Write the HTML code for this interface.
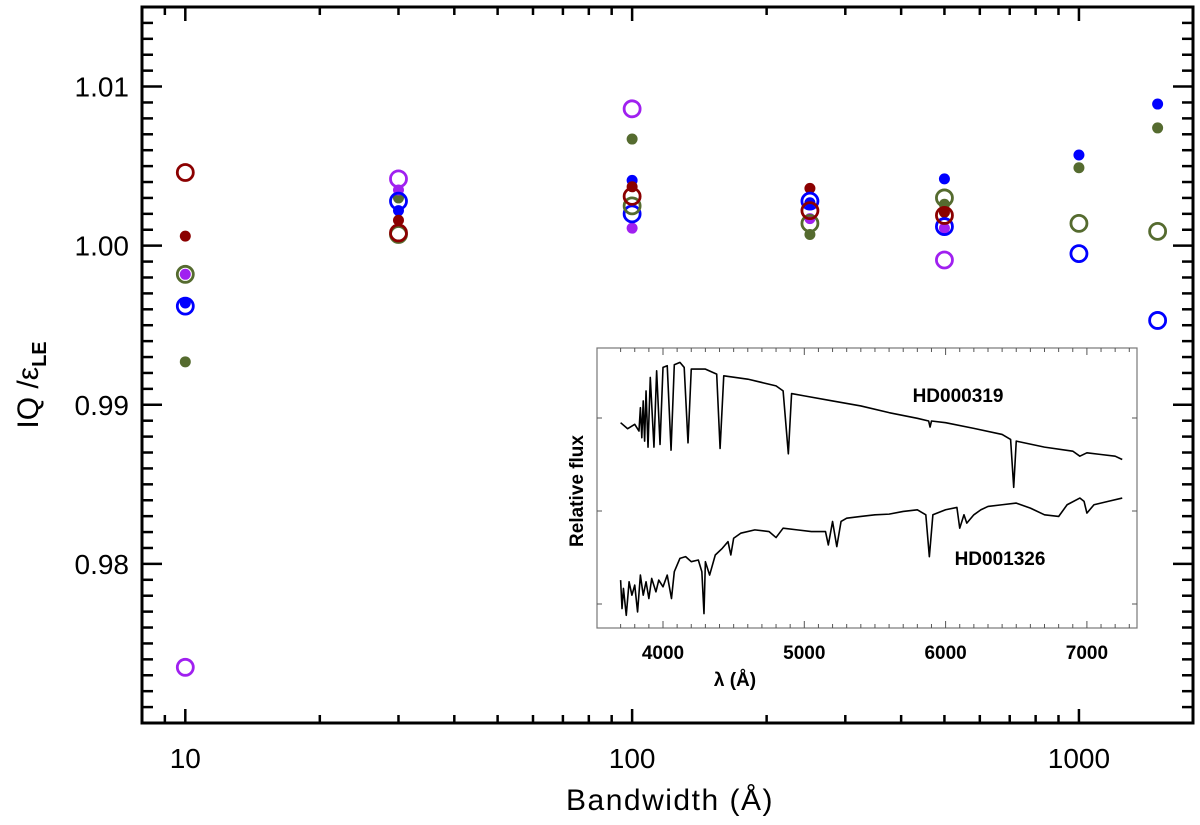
<!DOCTYPE html>
<html><head><meta charset="utf-8"><style>
html,body{margin:0;padding:0;background:#fff;}
svg{display:block;font-family:"Liberation Sans",sans-serif;}
</style></head><body>
<svg id="chart" width="1200" height="825" viewBox="0 0 1200 825">
<g id="main-axes"></g>
<g id="points"></g>
<g id="inset"></g>
<text x="670" y="810" text-anchor="middle" font-size="30" letter-spacing="1.5">Bandwidth (Å)</text>
<g transform="translate(38,385) rotate(-90)">
<text x="0" y="0" text-anchor="middle" font-size="30">IQ /ε<tspan font-size="20" font-weight="bold" dy="8">LE</tspan></text>
</g>
</svg>
<script>
const NS='http://www.w3.org/2000/svg';
const bandwidths=[10,30,100,250,500,1000,1500];
const blueFilled=[0.9964,1.0022,1.0041,1.0027,1.0042,1.0057,1.0089];
const blueOpen=[0.9962,1.0028,1.0020,1.0028,1.0012,0.9995,0.9953];
const oliveFilled=[0.9927,1.0030,1.0067,1.0007,1.0026,1.0049,1.0074];
const oliveOpen=[0.9982,1.0007,1.0025,1.0014,1.0030,1.0014,1.0009];
const redFilled=[1.0006,1.0016,1.0037,1.0036,1.0021,null,null];
const redOpen=[1.0046,1.0008,1.0031,1.0022,1.0019,null,null];
const purpleFilled=[0.9982,1.0035,1.0011,1.0017,1.0011,null,null];
const purpleOpen=[0.9735,1.0042,1.0086,null,0.9991,null,null];
const yTicks=[0.98,0.99,1.00,1.01];
const yTickLabels=['0.98','0.99','1.00','1.01'];
const xTicks=[10,100,1000];
const xTickLabels=['10','100','1000'];
// inset spectra
const hd319Wave=[3700,3750,3800,3830,3840,3850,3860,3870,3880,3894,3910,3936,3955,3979,4000,4030,4057,4080,4120,4150,4177,4200,4300,4380,4404,4430,4600,4800,4850,4887,4910,5000,5200,5400,5600,5800,5880,5890,5900,6000,6200,6400,6460,6482,6500,6700,6900,6950,7000,7100,7200,7250];
const hd319Flux=[613,595,608,588,658,568,678,558,708,540,748,540,768,548,778,783,531,786,793,778,553,773,773,758,536,753,743,723,708,520,700,693,678,663,643,626,618,600,618,613,596,578,563,420,558,540,528,513,523,518,513,503];
const hd1326Wave=[3700,3710,3720,3740,3760,3780,3800,3820,3840,3860,3880,3900,3920,3950,3970,4000,4030,4060,4080,4120,4160,4200,4250,4275,4290,4300,4330,4370,4420,4460,4480,4500,4550,4650,4750,4800,4850,4950,5050,5150,5170,5200,5230,5260,5300,5400,5500,5600,5700,5800,5860,5885,5910,6000,6080,6100,6130,6150,6200,6250,6300,6400,6500,6600,6700,6800,6860,6950,6980,7000,7050,7150,7250];
const hd1326Flux=[143,58,118,38,138,98,128,48,158,98,138,88,148,108,143,123,158,88,168,208,213,198,203,168,43,198,158,218,238,258,218,268,283,293,288,270,298,293,288,288,248,318,243,318,328,333,338,340,348,353,338,213,338,353,360,298,338,313,338,353,363,368,373,358,338,333,368,388,378,343,368,378,388];
const insetXTicks=[4000,5000,6000,7000];

function el(tag,attrs,parent){const e=document.createElementNS(NS,tag);for(const k in attrs)e.setAttribute(k,attrs[k]);parent.appendChild(e);return e;}
const L=142,R=1193,T=7,B=723;
const lx0=Math.log10(8),lx1=Math.log10(1800);
const X=v=>L+(Math.log10(v)-lx0)/(lx1-lx0)*(R-L);
const Y=v=>B-(v-0.970)/(0.015+0.030)*(B-T);
const ax=document.getElementById('main-axes');
let f=el('rect',{x:L,y:T,width:R-L,height:B-T,fill:'none',stroke:'#000','stroke-width':3},ax);


// y ticks
for(let i=970;i<=1015;i++){const v=i/1000;const y=Y(v);const major=i%10===0;const len=major?20:11;
 el('line',{x1:L,x2:L+len,y1:y,y2:y,stroke:'#000','stroke-width':2.5},ax);
 el('line',{x1:R,x2:R-len,y1:y,y2:y,stroke:'#000','stroke-width':2.5},ax);}
yTicks.forEach((v,i)=>{const t=el('text',{x:129,y:Y(v)+10,'text-anchor':'end','font-size':28},ax);t.textContent=yTickLabels[i];
 
 });
// x ticks
for(let d=1;d<=1000;d*=10){for(let m=1;m<10;m++){const v=d*m;if(v<8||v>1800)continue;const x=X(v);const len=m===1?14:8;
 el('line',{x1:x,x2:x,y1:B,y2:B-len,stroke:'#000','stroke-width':2.5},ax);
 el('line',{x1:x,x2:x,y1:T,y2:T+len,stroke:'#000','stroke-width':2.5},ax);}}
xTicks.forEach((v,i)=>{const t=el('text',{x:X(v),y:768,'text-anchor':'middle','font-size':28},ax);t.textContent=xTickLabels[i];
 
 });
// points
const pg=document.getElementById('points');
const series=[
 [blueFilled,'#0000ff',true,'blue-filled'],[oliveFilled,'#556b2f',true,'olive-filled'],
 [redFilled,'#8b0000',true,'red-filled'],[purpleFilled,'#a020f0',true,'purple-filled'],
 [blueOpen,'#0000ff',false,'blue-open'],[oliveOpen,'#556b2f',false,'olive-open'],
 [redOpen,'#8b0000',false,'red-open'],[purpleOpen,'#a020f0',false,'purple-open']];
series.forEach(([vals,col,filled,name])=>{vals.forEach((v,i)=>{if(v==null)return;
 const c=el('circle',filled?{cx:X(bandwidths[i]),cy:Y(v),r:5.5,fill:col}:{cx:X(bandwidths[i]),cy:Y(v),r:8,fill:'none',stroke:col,'stroke-width':2.8},pg);
 
 });});
// inset
const ig=document.getElementById('inset');
const IL=597,IR=1137,IT=348,IB=628;
const IX=w=>663+(w-4000)*0.1413;
const IY=fv=>IB-fv/836*(IB-IT);
el('rect',{x:IL,y:IT,width:IR-IL,height:IB-IT,fill:'#fff',stroke:'#777','stroke-width':1.2},ig);
for(let w=3700;w<=7500;w+=100){const x=IX(w);if(x<IL||x>IR)continue;const len=w%1000===0?7:4;
 el('line',{x1:x,x2:x,y1:IB,y2:IB-len,stroke:'#555','stroke-width':1},ig);
 el('line',{x1:x,x2:x,y1:IT,y2:IT+len,stroke:'#555','stroke-width':1},ig);}
[418,511,604].forEach(y=>{el('line',{x1:IL,x2:IL+5,y1:y,y2:y,stroke:'#555','stroke-width':1},ig);el('line',{x1:IR,x2:IR-5,y1:y,y2:y,stroke:'#555','stroke-width':1},ig);});
insetXTicks.forEach(v=>{const t=el('text',{x:IX(v),y:659,'text-anchor':'middle','font-size':19,'font-weight':'bold'},ig);t.textContent=String(v);
 
 });
function spec(w,fl,name){const p=el('polyline',{points:w.map((v,i)=>IX(v)+','+IY(fl[i])).join(' '),fill:'none',stroke:'#000','stroke-width':1.6,'stroke-linejoin':'round'},ig);
 
 }
spec(hd319Wave,hd319Flux,'spectrum-hd000319');
spec(hd1326Wave,hd1326Flux,'spectrum-hd001326');
let t1=el('text',{x:958,y:402,'text-anchor':'middle','font-size':19,'font-weight':'bold'},ig);t1.textContent='HD000319';


let t2=el('text',{x:1000,y:565,'text-anchor':'middle','font-size':19,'font-weight':'bold'},ig);t2.textContent='HD001326';


let t3=el('text',{x:735,y:686,'text-anchor':'middle','font-size':19,'font-weight':'bold'},ig);t3.textContent='λ (Å)';


let t4=el('text',{x:0,y:0,'text-anchor':'middle','font-size':19,'font-weight':'bold',transform:'translate(583,491) rotate(-90)'},ig);t4.textContent='Relative flux';


</script>
</body></html>
